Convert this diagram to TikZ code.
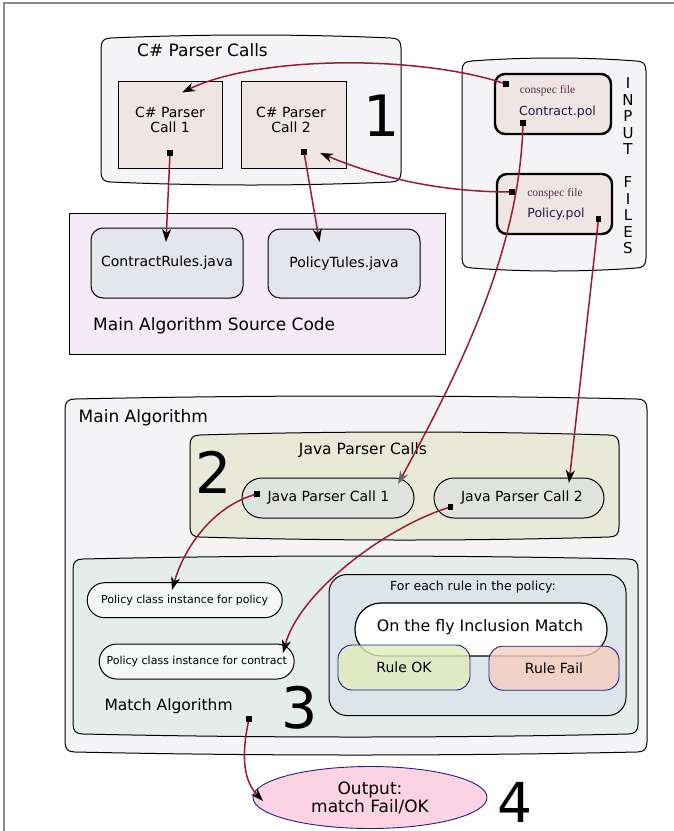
\documentclass[tikz,border=0pt]{standalone}
\usepackage{fontspec}
\setmainfont{DejaVu Sans}
\newfontfamily\notefont{Liberation Serif}
\usetikzlibrary{arrows.meta,shapes.geometric}

\definecolor{grpfill}{HTML}{F4F4F6}
\definecolor{callfill}{HTML}{EFE5E5}
\definecolor{srcfill}{HTML}{F5EAF8}
\definecolor{javafill}{HTML}{E5E6EB}
\definecolor{jpcfill}{HTML}{E9E9D8}
\definecolor{pillfill}{HTML}{E0E3DD}
\definecolor{matchfill}{HTML}{E4EDEA}
\definecolor{instfill}{HTML}{F4F7F6}
\definecolor{eachfill}{HTML}{DCE5EA}
\definecolor{okfill}{HTML}{E1EBBB}
\definecolor{failfill}{HTML}{F4CDBE}
\definecolor{outfill}{HTML}{FDD3E3}
\definecolor{navy}{HTML}{1E1E8C}
\definecolor{linkred}{HTML}{9C1A33}
\definecolor{notecol}{HTML}{5A2A4A}
\definecolor{polcol}{HTML}{1C1C48}
\definecolor{framegray}{HTML}{8A8A8A}

% container with softly bulging top and bottom edges
\newcommand{\bulgebox}[5]{%
  \path[#1] (#2,#3+10) .. controls (#2,#3+3) and (#2+3,#3) .. (#2+10,#3)
    .. controls ({#2+(#4-#2)/3},#3-4) and ({#4-(#4-#2)/3},#3-4) .. (#4-10,#3)
    .. controls (#4-3,#3) and (#4,#3+3) .. (#4,#3+10)
    -- (#4,#5-10)
    .. controls (#4,#5-3) and (#4-3,#5) .. (#4-10,#5)
    .. controls ({#4-(#4-#2)/3},#5+4) and ({#2+(#4-#2)/3},#5+4) .. (#2+10,#5)
    .. controls (#2+3,#5) and (#2,#5-3) .. (#2,#5-10) -- cycle;}

\tikzset{
  grp/.style={draw=black, line width=1pt},
  lbl/.style={inner sep=0pt},
  callbox/.style={rectangle, draw=black, line width=1pt, fill=callfill, inner sep=0pt},
  filebox/.style={rectangle, rounded corners=10pt, draw=black, line width=2.4pt, fill=callfill, inner sep=0pt},
  javabox/.style={rectangle, rounded corners=12pt, draw=black, line width=1pt, fill=javafill, inner sep=0pt},
  pill/.style={rectangle, draw=black, line width=1pt, inner sep=0pt},
  rulebox/.style={rectangle, rounded corners=14pt, draw=navy, line width=0.9pt, fill opacity=0.8, text opacity=1, inner sep=0pt},
  sqmark/.style={rectangle, fill=black, inner sep=0pt, minimum size=5pt},
  link/.style={draw=linkred, line width=1.5pt, -{Stealth[length=13pt,width=9pt,inset=4pt,color=black]}},
  linkgray/.style={draw=linkred, line width=1.5pt, -{Stealth[length=13pt,width=9pt,inset=4pt,color=black!60]}},
  ftitle/.style={font=\fontsize{17}{20}\selectfont},
  fsub/.style={font=\fontsize{15.5}{18}\selectfont},
  fbody/.style={font=\fontsize{14}{15}\selectfont},
  fsmall/.style={font=\fontsize{11}{13}\selectfont},
  fbig/.style={font=\fontsize{57}{60}\selectfont},
}

\begin{document}
\begin{tikzpicture}[x=1pt,y=-1pt]
\useasboundingbox (0,0) rectangle (674,831);

% page frame
\draw[framegray, line width=1.5pt] (4,831) -- (4,3) -- (674,3);

% ---------- 1: C# parser calls ----------
\bulgebox{grp, fill=grpfill}{101}{38}{401}{182}
\node[lbl, ftitle] (cstitle) at (202.5,50) {C\# Parser Calls};
\node[callbox, minimum width=104pt, minimum height=87pt] (cs1) at (170,124.5) {};
\node[lbl, fbody, align=center] (cs1t) at (170,119.5) {C\# Parser\\Call 1};
\node[callbox, minimum width=105pt, minimum height=87pt] (cs2) at (293.5,124.5) {};
\node[lbl, fbody, align=center] (cs2t) at (291,119.5) {C\# Parser\\Call 2};
\node[lbl, fbig] (n1) at (382,116) {1};

% ---------- input files ----------
\bulgebox{grp, fill=grpfill}{462}{61}{646}{268}
\node[filebox, minimum width=116pt, minimum height=60pt] (cpol) at (553,104) {};
\node[lbl, font=\notefont\fontsize{11.5}{13}\selectfont, text=notecol] (cpolnote) at (547.5,91) {conspec file};
\node[lbl, font=\fontsize{12.5}{14}\selectfont, text=polcol] (cpolname) at (557.5,112) {Contract.pol};
\node[filebox, minimum width=115pt, minimum height=60pt] (ppol) at (554.5,204) {};
\node[lbl, font=\notefont\fontsize{11.5}{13}\selectfont, text=notecol] (ppolnote) at (555,193.3) {conspec file};
\node[lbl, font=\fontsize{12.5}{14}\selectfont, text=polcol] (ppolname) at (556,214.3) {Policy.pol};
\node[lbl, align=center, font=\fontsize{15}{16.5}\selectfont] (inlbl) at (628,166)
  {I\\N\\P\\U\\T\\[16.5pt]F\\I\\L\\E\\S};

% ---------- main algorithm source code ----------
\path[draw=black, line width=1pt, fill=srcfill] (69,213) rectangle (445,354);
\node[javabox, minimum width=152pt, minimum height=70pt, fbody] (crj) at (167,263) {ContractRules.java};
\node[javabox, minimum width=152pt, minimum height=69pt, fbody] (ptj) at (344,263.5) {PolicyTules.java};
\node[lbl, ftitle, anchor=west] (srclbl) at (93,326) {Main Algorithm Source Code};

% ---------- main algorithm ----------
\bulgebox{grp, fill=grpfill}{65}{399}{647}{752}
\node[lbl, ftitle, anchor=west] (mainlbl) at (78.5,418) {Main Algorithm};

% 2: Java parser calls
\bulgebox{grp, fill=jpcfill}{190}{435}{619}{537}
\node[lbl, fsub] (jtitle) at (363,450) {Java Parser Calls};
\node[lbl, fbig] (n2) at (214,472.5) {2};
\node[pill, rounded corners=20pt, fill=pillfill, minimum width=172pt, minimum height=40pt] (jpc1) at (328,498) {};
\node[lbl, fbody] (jpc1t) at (328.5,497.3) {Java Parser Call 1};
\node[pill, rounded corners=20pt, fill=pillfill, minimum width=170pt, minimum height=40pt] (jpc2) at (519,498) {};
\node[lbl, fbody] (jpc2t) at (522,497.3) {Java Parser Call 2};

% 3: match algorithm
\bulgebox{grp, fill=matchfill}{73}{559}{638}{734}
\node[lbl, fsub, anchor=west] (matchlbl) at (104.3,706.7) {Match Algorithm};
\node[lbl, fbig] (n3) at (300,707.3) {3};
\node[pill, rounded corners=17.5pt, fill=instfill, minimum width=195pt, minimum height=35pt, fsmall] (pip) at (184.7,600.2) {Policy class instance for policy};
\node[pill, rounded corners=17.5pt, fill=instfill, minimum width=195pt, minimum height=35pt, fsmall] (pic) at (196.7,661.5) {Policy class instance for contract};

\path[draw=black, line width=1pt, fill=eachfill, rounded corners=18pt] (329,574.5) rectangle (626,715.5);
\node[lbl, font=\fontsize{12.5}{14}\selectfont] (eachlbl) at (473,586.7) {For each rule in the policy:};
\node[pill, rounded corners=26pt, line width=1.2pt, fill=white, minimum width=252pt, minimum height=53pt] (otf) at (481,629.5) {};
\node[lbl, font=\fontsize{15.8}{18}\selectfont] (otft) at (480,627.3) {On the fly Inclusion Match};
\node[rulebox, fill=okfill, minimum width=132pt, minimum height=45pt, fbody] (rok) at (404,667.5) {Rule OK};
\node[rulebox, fill=failfill, minimum width=130pt, minimum height=44pt, fbody] (rfail) at (554,668.2) {Rule Fail};

% ---------- 4: output ----------
\node[ellipse, draw=navy, line width=0.9pt, fill=outfill, minimum width=234pt, minimum height=62pt, inner sep=0pt] (out) at (370,797.5) {};
\node[lbl, align=center, font=\fontsize{17}{17.7}\selectfont] (outt) at (370,797.8) {Output:\\match Fail/OK};
\node[lbl, font=\fontsize{55}{58}\selectfont] (n4) at (514.5,802) {4};

% ---------- connection points ----------
\node[sqmark] (m1) at (506,84) {};
\node[sqmark] (m2) at (512,192) {};
\node[sqmark] (m3) at (170,153) {};
\node[sqmark] (m4) at (304,152) {};
\node[sqmark] (m5) at (523,123) {};
\node[sqmark] (m6) at (598.5,219) {};
\node[sqmark] (m7) at (257,494) {};
\node[sqmark] (m8) at (450.5,507) {};
\node[sqmark] (m9) at (249,719) {};

\coordinate (t1) at (182,92.5);
\coordinate (t2) at (320,153);
\coordinate (t3) at (166,242);
\coordinate (t4) at (319.5,242);
\coordinate (t5) at (398,484);
\coordinate (t6) at (569,483);
\coordinate (t7) at (172,590);
\coordinate (t8) at (283,653);
\coordinate (t9) at (263,801);

% ---------- connectors ----------
\draw[link] (m1.center) .. controls (420,55) and (260,55) .. (t1);
\draw[link] (m2.center) .. controls (440,192) and (380,178) .. (t2);
\draw[link] (m3.center) -- (t3);
\draw[link] (m4.center) -- (t4);
\draw[linkgray] (m5.center) .. controls (520,250) and (460,370) .. (t5);
\draw[link] (m6.center) -- (t6);
\draw[link] (m7.center) .. controls (215,505) and (185,545) .. (t7);
\draw[link] (m8.center) .. controls (390,525) and (300,590) .. (t8);
\draw[link] (m9.center) .. controls (240,760) and (245,782) .. (t9);

% markers on top of their lines
\foreach \m in {m1,m2,m3,m4,m5,m6,m7,m8,m9} \fill (\m.south west) rectangle (\m.north east);
\end{tikzpicture}
\end{document}
